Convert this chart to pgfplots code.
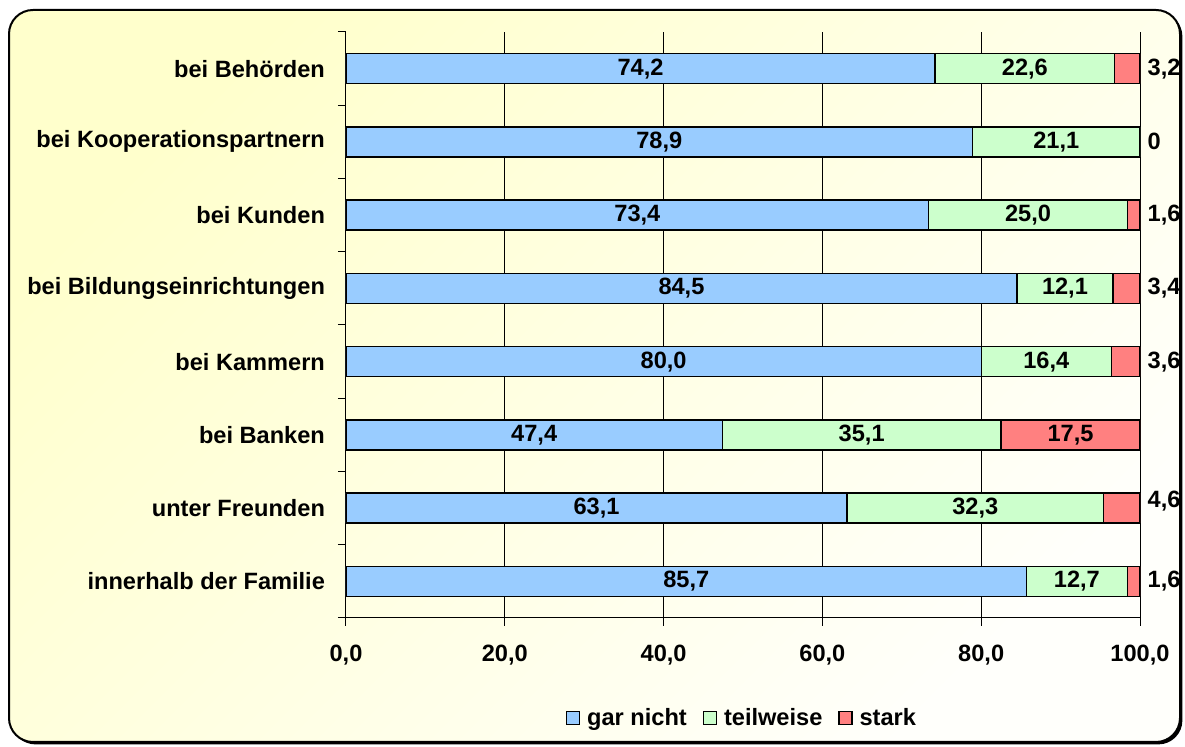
\documentclass[border=0pt]{standalone}
\usepackage{fontspec}
\setmainfont{Liberation Sans}
\usepackage{pgfplots}
\usepackage{pgfplotstable}
\pgfplotsset{compat=1.18}
\usetikzlibrary{shadows}

\definecolor{gn}{HTML}{99CCFF}
\definecolor{tw}{HTML}{CCFFCC}
\definecolor{st}{HTML}{FF8080}
\definecolor{bgy}{HTML}{FFFFCC}
\definecolor{bgw}{HTML}{FFFFFB}
\newcommand\lbl{\bfseries\fontsize{11.8}{14}\selectfont}

% shares in percent, row 0 = bottom bar
\pgfplotstableread{
y g t s
0 85.7 12.7 1.6
1 63.1 32.3 4.6
2 47.4 35.1 17.5
3 80.0 16.4 3.6
4 84.5 12.1 3.4
5 73.4 25.0 1.6
6 78.9 21.1 0.0
7 74.2 22.6 3.2
}\shares

% labels centred in the segments
\pgfplotstableread{
x y lab
42.85 0 85,7
31.55 1 63,1
23.70 2 47,4
40.00 3 80,0
42.25 4 84,5
36.70 5 73,4
39.45 6 78,9
37.10 7 74,2
92.05 0 12,7
79.25 1 32,3
64.95 2 35,1
88.20 3 16,4
90.55 4 12,1
85.90 5 25,0
89.45 6 21,1
85.50 7 22,6
91.25 2 17,5
}\inlabels

% small "stark" values, written right of the bar
\pgfplotstableread{
x y lab
100 0 1,6
100 1.1 4,6
100 3 3,6
100 4 3,4
100 5 1,6
100 6 0
100 7 3,2
}\outlabels

\begin{document}
\begin{tikzpicture}
\path[use as bounding box] (0,0) rectangle (592.5pt,-373.5pt);
\draw[rounded corners=12pt, top color=bgy, bottom color=bgw, shading angle=45,
  line width=1pt, drop shadow={shadow xshift=1.2pt, shadow yshift=-1.2pt, opacity=1, fill=black}]
  (4.5pt,-5pt) rectangle (590pt,-371pt);

\pgfplotsset{sq/.style={legend image code/.code={
  \draw[##1, draw=black, line width=0.7pt] (0pt,-3.2pt) rectangle (6.4pt,3.2pt);}}}

\begin{axis}[
  at={(173pt,-16pt)}, anchor=north west,
  scale only axis, width=397pt, height=293pt,
  xbar stacked, bar width=15pt,
  xmin=0, xmax=100, ymin=-0.5, ymax=7.5,
  axis x line*=bottom, axis y line*=left,
  axis line style={black, line width=0.5pt},
  xtick={0,20,...,100},
  xmajorgrids, grid style={black, line width=0.5pt},
  tick align=outside, major tick length=4pt, minor tick length=4pt,
  /pgf/number format/fixed, /pgf/number format/fixed zerofill,
  /pgf/number format/precision=1, /pgf/number format/use comma,
  /pgf/number format/assume math mode=true,
  xticklabel style={font=\lbl, yshift=-6pt},
  ytick={0,...,7},
  yticklabels={innerhalb der Familie, unter Freunden, bei Banken, bei Kammern,
    bei Bildungseinrichtungen, bei Kunden, bei Kooperationspartnern, bei Behörden},
  yticklabel style={font=\lbl, xshift=-3pt},
  major y tick style={draw=none},
  minor ytick={-0.5,0.5,...,7.5},
  minor y tick style={black, line width=0.5pt},
  x tick style={black, line width=0.5pt},
  legend style={at={(0.5,-0.1706)}, anchor=center, draw=none, fill=none,
    legend columns=-1, font=\lbl,
    /tikz/every odd column/.append style={column sep=1.5pt},
    /tikz/every even column/.append style={column sep=6pt}},
]
\addplot[fill=gn, draw=black, line width=0.7pt, sq] table[x=g, y=y] {\shares};
\addplot[fill=tw, draw=black, line width=0.7pt, sq] table[x=t, y=y] {\shares};
\addplot[fill=st, draw=black, line width=0.7pt, sq] table[x=s, y=y] {\shares};
\legend{gar nicht, teilweise, stark}
\end{axis}

\begin{axis}[
  at={(173pt,-16pt)}, anchor=north west,
  scale only axis, width=397pt, height=293pt,
  xmin=0, xmax=100, ymin=-0.5, ymax=7.5, hide axis, clip=false,
]
\addplot[draw=none, nodes near coords, point meta=explicit symbolic,
  nodes near coords style={anchor=center, font=\lbl}]
  table[x=x, y=y, meta=lab] {\inlabels};
\addplot[draw=none, nodes near coords, point meta=explicit symbolic,
  nodes near coords style={anchor=west, xshift=0.3pt, font=\lbl}]
  table[x=x, y=y, meta=lab] {\outlabels};
\end{axis}
\end{tikzpicture}
\end{document}
